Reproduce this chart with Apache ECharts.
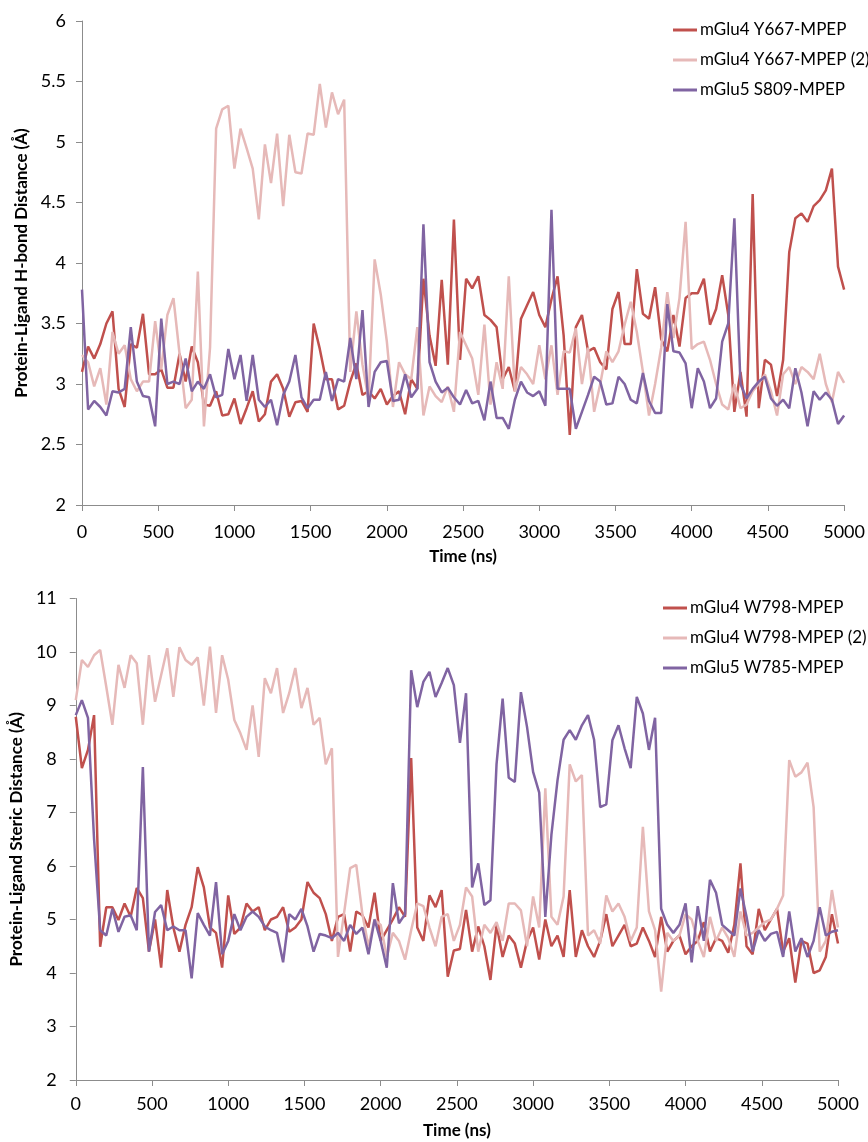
<!DOCTYPE html>
<html>
<head>
<meta charset="utf-8">
<script src="https://cdn.jsdelivr.net/npm/echarts@6/dist/echarts.min.js"></script>
<style>
  html, body { margin: 0; padding: 0; background: #fff; }
  #main { width: 868px; height: 1142px; }
</style>
</head>
<body>
<div id="main"></div>
<script>
// Sample times (ns), shared by every trace
var timeNs = [0,40,80,120,160,200,240,280,320,360,400,440,480,520,560,600,640,680,720,760,800,840,880,920,960,1000,
  1040,1080,1120,1160,1200,1240,1280,1320,1360,1400,1440,1480,1520,1560,1600,1640,1680,1720,1760,1800,1840,1880,1920,1960,2000,
  2040,2080,2120,2160,2200,2240,2280,2320,2360,2400,2440,2480,2520,2560,2600,2640,2680,2720,2760,2800,2840,2880,2920,2960,3000,
  3040,3080,3120,3160,3200,3240,3280,3320,3360,3400,3440,3480,3520,3560,3600,3640,3680,3720,3760,3800,3840,3880,3920,3960,4000,
  4040,4080,4120,4160,4200,4240,4280,4320,4360,4400,4440,4480,4520,4560,4600,4640,4680,4720,4760,4800,4840,4880,4920,4960,5000];

// Top panel: H-bond distance (A)
var hbondNames = ['mGlu4 Y667-MPEP', 'mGlu4 Y667-MPEP (2)', 'mGlu5 S809-MPEP'];
var hbondY667 = [3.10,3.31,3.21,3.33,3.50,3.60,2.96,2.81,3.33,3.30,3.58,3.08,3.08,3.12,2.97,2.97,3.25,3.02,3.31,3.18,
  2.83,2.82,2.94,2.74,2.75,2.88,2.67,2.80,2.94,2.69,2.75,3.02,3.08,2.96,2.73,2.85,2.86,2.77,3.50,3.29,
  3.04,3.04,2.79,2.82,3.02,3.17,2.91,2.94,2.88,2.96,2.83,2.90,2.94,2.75,3.04,2.96,3.87,3.40,3.15,3.86,
  3.16,4.36,3.20,3.87,3.79,3.89,3.57,3.53,3.47,3.04,3.14,2.94,3.54,3.65,3.76,3.57,3.47,3.70,3.89,3.40,
  2.58,3.47,3.57,3.27,3.30,3.18,3.12,3.62,3.76,3.33,3.33,3.95,3.58,3.54,3.80,3.37,3.27,3.57,3.31,3.71,
  3.75,3.75,3.87,3.49,3.62,3.90,3.57,2.77,3.10,2.73,4.57,2.80,3.20,3.16,2.90,3.20,4.09,4.37,4.41,4.34,
  4.47,4.52,4.60,4.78,3.97,3.78];
var hbondY667b = [3.24,3.18,2.98,3.13,2.83,3.43,3.25,3.32,3.04,2.94,3.02,3.02,3.52,3.12,3.57,3.71,3.25,2.80,2.87,3.93,
  2.65,3.30,5.11,5.27,5.30,4.78,5.11,4.95,4.78,4.36,4.98,4.66,5.07,4.47,5.06,4.75,4.74,5.07,5.06,5.48,
  5.12,5.41,5.23,5.35,3.10,3.60,3.16,2.87,4.03,3.74,3.35,2.81,3.18,3.08,3.04,3.47,2.74,2.98,2.90,2.85,
  2.98,2.77,3.43,3.32,3.21,2.91,3.49,2.83,3.18,2.96,3.89,2.94,3.14,3.08,3.00,3.32,3.04,3.32,2.91,3.27,
  3.26,3.46,3.00,3.30,2.77,3.00,3.27,3.18,3.27,3.49,3.68,3.43,3.10,2.74,3.00,3.30,3.76,3.38,3.71,4.34,
  3.29,3.33,3.35,3.20,3.00,2.83,2.79,3.00,2.80,2.83,2.94,3.00,3.08,2.94,2.74,3.08,3.14,3.00,3.14,3.10,
  3.04,3.25,3.00,2.85,3.10,3.01];
var hbondS809 = [3.78,2.79,2.86,2.81,2.74,2.94,2.93,2.96,3.47,3.02,2.90,2.89,2.65,3.54,3.00,3.02,3.00,3.21,2.94,3.02,
  2.96,3.08,2.89,2.91,3.29,3.04,3.24,2.86,3.24,2.87,2.81,2.87,2.66,2.91,3.02,3.24,2.89,2.80,2.87,2.87,
  3.10,2.86,3.04,3.02,3.38,3.04,3.61,2.81,3.10,3.18,3.19,2.86,2.87,3.08,2.89,2.96,4.32,3.18,3.02,2.93,
  2.97,2.89,2.83,2.95,2.84,2.86,2.70,3.02,2.72,2.72,2.63,2.87,3.02,2.93,2.90,2.94,2.82,4.44,2.96,2.96,
  2.96,2.63,2.77,2.91,3.06,3.02,2.83,2.84,3.06,3.00,2.87,2.84,3.09,2.86,2.76,2.76,3.66,3.27,3.26,3.17,
  2.80,3.13,3.02,2.80,2.88,3.35,3.50,4.37,3.00,2.88,2.96,3.02,3.06,2.88,2.82,2.87,2.80,3.13,2.93,2.65,
  2.94,2.87,2.93,2.87,2.67,2.74];

// Bottom panel: steric distance (A)
var stericNames = ['mGlu4 W798-MPEP', 'mGlu4 W798-MPEP (2)', 'mGlu5 W785-MPEP'];
var stericW798 = [8.79,7.83,8.17,8.82,4.49,5.23,5.23,4.99,5.30,5.05,5.59,5.40,4.40,5.00,4.10,5.55,4.85,4.40,4.90,5.23,
  5.98,5.60,4.85,4.75,4.10,5.45,4.73,4.85,5.30,5.15,5.23,4.80,5.00,5.05,5.23,4.77,4.85,5.00,5.70,5.50,
  5.40,5.10,4.60,5.05,5.10,4.40,5.15,5.08,4.85,5.50,4.60,4.80,5.00,5.23,5.05,8.02,4.85,4.60,5.45,5.23,
  5.55,3.93,4.42,4.45,5.18,4.40,4.87,4.50,3.87,4.90,4.30,4.70,4.55,4.10,4.60,4.85,4.25,5.00,4.50,4.70,
  4.30,5.55,4.30,4.80,4.50,4.30,4.60,5.10,4.50,4.70,4.90,4.50,4.55,4.85,4.60,4.30,5.05,4.40,4.60,4.70,
  4.35,4.50,4.60,4.95,4.40,4.65,4.60,4.38,4.90,6.05,4.50,4.35,5.20,4.80,5.00,5.20,4.40,4.65,3.82,4.60,
  4.55,4.00,4.05,4.30,5.10,4.55];
var stericW798b = [9.10,9.85,9.72,9.94,10.04,9.35,8.64,9.76,9.33,9.94,9.79,8.64,9.94,9.07,9.57,10.07,9.16,10.09,9.85,9.76,
  9.90,9.00,10.10,8.86,9.94,9.48,8.73,8.48,8.17,9.00,8.04,9.51,9.23,9.70,8.86,9.23,9.70,8.95,9.33,8.64,
  8.77,7.90,8.20,4.30,5.12,5.96,6.02,5.10,4.50,5.00,4.90,4.30,4.75,4.60,4.25,4.80,5.30,5.25,4.85,4.50,
  5.05,5.10,4.60,4.90,5.60,5.43,4.40,4.90,4.75,4.95,4.60,5.30,5.30,5.17,4.50,5.43,4.85,7.45,5.05,4.90,
  5.43,7.90,7.58,7.70,4.70,4.80,4.55,5.45,5.15,5.30,5.05,4.60,4.85,6.73,5.15,4.80,3.65,4.75,4.60,4.70,
  5.10,5.00,4.60,4.30,5.05,4.60,4.85,4.65,4.30,5.15,4.70,4.75,4.85,4.95,5.00,5.20,5.45,7.98,7.67,7.75,
  7.93,7.10,4.40,4.60,5.55,4.85];
var stericW785 = [8.82,9.10,8.77,6.50,4.80,4.70,5.20,4.77,5.05,5.08,4.80,7.85,4.40,5.14,5.27,4.80,4.87,4.80,4.80,3.90,
  5.12,4.90,4.70,5.70,4.35,4.60,5.10,4.80,5.05,5.15,5.05,4.87,4.80,4.75,4.20,5.10,5.00,5.20,4.87,4.40,
  4.73,4.70,4.65,4.75,4.60,4.90,4.73,4.85,4.35,5.00,4.60,4.10,5.68,4.93,5.10,9.66,8.97,9.44,9.63,9.16,
  9.42,9.70,9.38,8.30,9.23,5.60,6.05,5.27,5.36,7.90,9.13,7.65,7.57,9.25,8.60,7.76,7.37,5.05,6.58,7.60,
  8.36,8.54,8.36,8.63,8.82,8.36,7.10,7.15,8.35,8.63,8.20,7.83,9.16,8.85,8.17,8.77,5.20,4.90,4.75,4.90,
  5.30,4.20,5.25,4.60,5.74,5.50,4.90,4.80,4.70,5.58,5.05,4.40,4.80,4.60,4.73,4.77,4.30,5.15,4.40,4.65,
  4.30,4.60,5.23,4.70,4.77,4.80];

var seriesColors = ['#c0504d', '#e6b9b8', '#8064a2'];

var myChart;

/**
 * @name pairUp
 * @desc joins the sample times with one trace's values
 * @returns {Array}
 */
function pairUp(values) {
  var out = [], i;
  for (i = 0; i < values.length; i++) {
    out.push([timeNs[i], values[i]]);
  }
  return out;
}

function makeSeries(name, values, color, idx) {
  return {
    name: name,
    type: 'line',
    xAxisIndex: idx,
    yAxisIndex: idx,
    showSymbol: false,
    symbol: 'none',
    lineStyle: { color: color, width: 2.5 },
    itemStyle: { color: color },
    emphasis: { disabled: true },
    data: pairUp(values)
  };
}

// plain numbers, no thousands separator
function plainLabel(v) {
  return String(v);
}

function xAxisFor(idx, labelMargin, nameGap) {
  return {
    type: 'value',
    gridIndex: idx,
    min: 0,
    max: 5000,
    interval: 500,
    name: 'Time (ns)',
    nameLocation: 'middle',
    nameGap: nameGap,
    nameTextStyle: { fontFamily: 'Lato', fontWeight: 'bold', fontSize: 17, color: '#000' },
    axisLine: { show: true, lineStyle: { color: '#8c8c8c', width: 1 } },
    axisTick: { show: true, length: 6, lineStyle: { color: '#8c8c8c' } },
    axisLabel: { fontFamily: 'Lato', fontSize: 18, color: '#000', margin: labelMargin, formatter: plainLabel },
    splitLine: { show: false }
  };
}

function yAxisFor(idx, min, max, interval, name, labelMargin, nameGap) {
  return {
    type: 'value',
    gridIndex: idx,
    min: min,
    max: max,
    interval: interval,
    name: name,
    nameLocation: 'middle',
    nameGap: nameGap,
    nameTextStyle: { fontFamily: 'Lato', fontWeight: 'bold', fontSize: 17, color: '#000' },
    axisLine: { show: true, lineStyle: { color: '#8c8c8c', width: 1 } },
    axisTick: { show: true, length: 6, lineStyle: { color: '#8c8c8c' } },
    axisLabel: { fontFamily: 'Lato', fontSize: 18, color: '#000', margin: labelMargin, formatter: plainLabel },
    splitLine: { show: false }
  };
}

function legendFor(names, left, top) {
  return {
    data: names,
    orient: 'vertical',
    left: left,
    top: top,
    icon: 'rect',
    itemWidth: 24,
    itemHeight: 3,
    itemGap: 10,
    selectedMode: false,
    textStyle: { fontFamily: 'Lato', fontSize: 17, color: '#000', lineHeight: 20, padding: [0, 0, 0, -2] }
  };
}

/**
 * @name paint
 * @desc builds both panels on one chart
 * @returns {void}
 */
function paint() {
  myChart = echarts.init(document.getElementById('main'));

  var option = {
    animation: false,
    backgroundColor: '#fff',
    grid: [
      { left: 82, right: 23, top: 21, height: 484 },
      { left: 73.5, right: 30, top: 598.5, height: 481.5 }
    ],
    legend: [
      legendFor(hbondNames, 668, 15),
      legendFor(stericNames, 658, 593)
    ],
    xAxis: [
      xAxisFor(0, 18, 43),
      xAxisFor(1, 15, 42)
    ],
    yAxis: [
      yAxisFor(0, 2, 6, 0.5, 'Protein-Ligand H-bond Distance (\u00c5)', 16, 52),
      yAxisFor(1, 2, 11, 1, 'Protein-Ligand Steric Distance (\u00c5)', 19, 44)
    ],
    series: [
      makeSeries(hbondNames[0], hbondY667, seriesColors[0], 0),
      makeSeries(hbondNames[1], hbondY667b, seriesColors[1], 0),
      makeSeries(hbondNames[2], hbondS809, seriesColors[2], 0),
      makeSeries(stericNames[0], stericW798, seriesColors[0], 1),
      makeSeries(stericNames[1], stericW798b, seriesColors[1], 1),
      makeSeries(stericNames[2], stericW785, seriesColors[2], 1)
    ]
  };

  myChart.setOption(option);
}

paint();
</script>
</body>
</html>
